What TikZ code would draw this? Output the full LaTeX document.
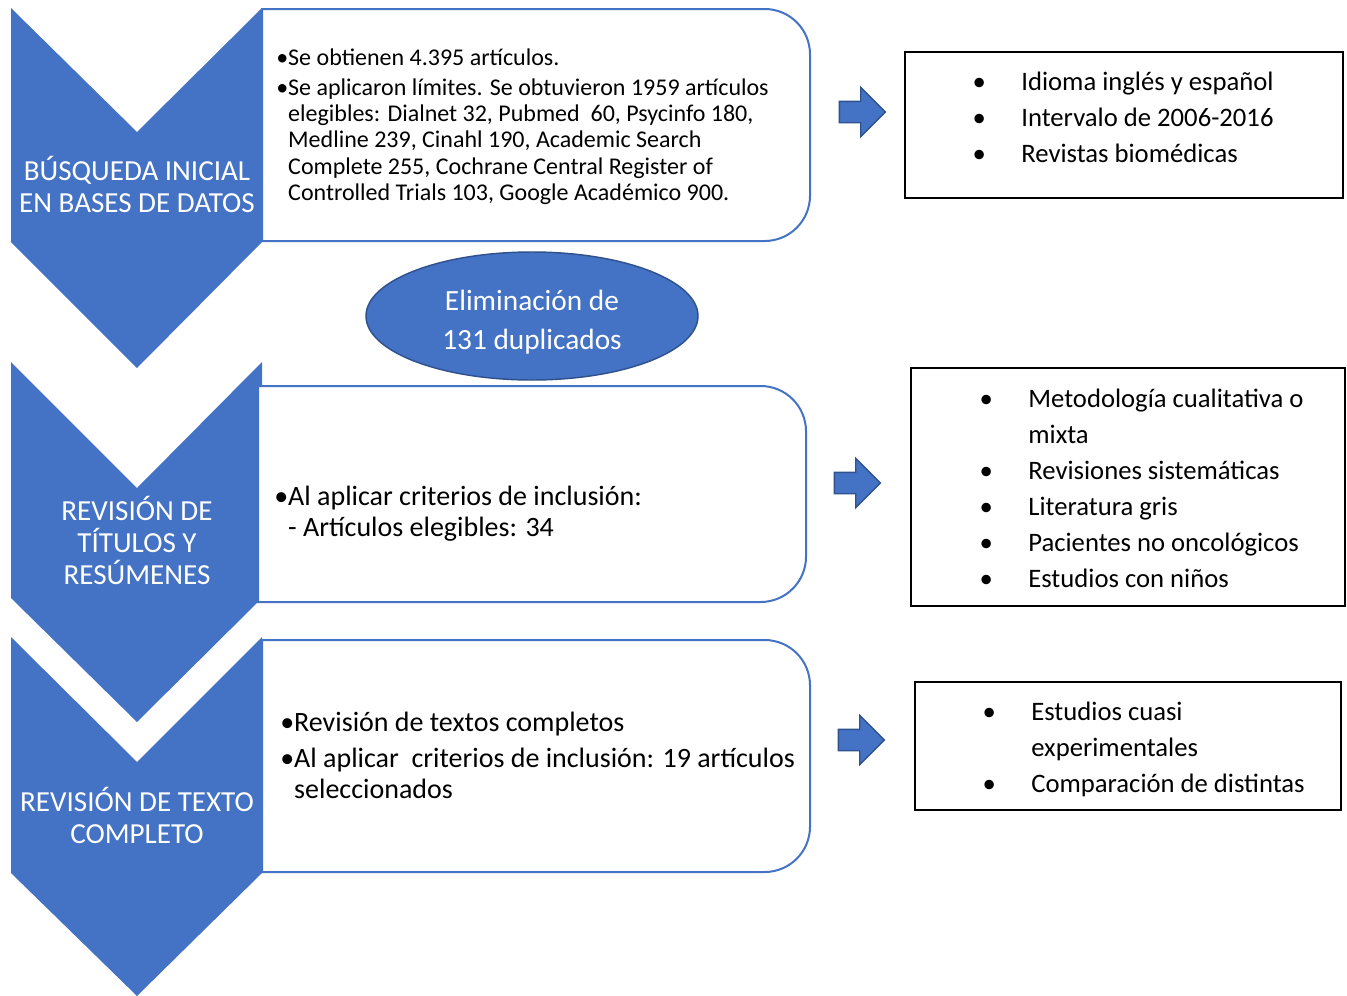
\documentclass[tikz,border=0pt]{standalone}
\usepackage{fontspec}
\setmainfont{Carlito}
\usetikzlibrary{shapes.geometric, shapes.arrows}

\definecolor{azul}{HTML}{4472C4}
\definecolor{azuloscuro}{HTML}{2F528F}

\tikzset{
  etapa/.style={text=white, align=center, inner sep=0pt, font=\fontsize{21.8}{24}\selectfont},
  caja/.style={draw=azul, line width=1.5pt, fill=white},
  texto/.style={anchor=west, inner sep=0pt},
  criterio/.style={draw=black, line width=1.5pt},
  flecha/.style={single arrow, draw=azuloscuro, fill=azul, line width=1pt, inner sep=7.5pt,
    single arrow head extend=10.5pt, minimum height=34.5pt},
}

\begin{document}
\begin{tikzpicture}[x=0.75pt, y=-0.75pt]
                \useasboundingbox (0,0) rectangle (1347,996);

                % chevrons
                \fill[azul] (11,8) -- (137,132) -- (262,8) -- (262,242) -- (137,368) -- (11,242) -- cycle;
                \fill[azul] (11,362) -- (137,488) -- (262,362) -- (262,598) -- (137,722) -- (11,598) -- cycle;
                \fill[azul] (11,637) -- (137,762) -- (262,637) -- (262,873) -- (137,996) -- (11,873) -- cycle;

                \node[etapa] (etapa1) at (137,184) {BÚSQUEDA INICIAL\\EN BASES DE DATOS};
                \node[etapa] (etapa2) at (137,540) {REVISIÓN DE\\TÍTULOS Y\\RESÚMENES};
                \node[etapa] (etapa3) at (137,815) {REVISIÓN DE TEXTO\\COMPLETO};

                % cajas de resultados
                \draw[caja] (262,9) [rounded corners=34pt] -- (810,9) -- (810,241) [sharp corners] -- (262,241) -- cycle;
                \draw[caja] (258,386) [rounded corners=34pt] -- (806,386) -- (806,602) [sharp corners] -- (258,602) -- cycle;
                \draw[caja] (262,640) [rounded corners=34pt] -- (810,640) -- (810,872) [sharp corners] -- (262,872) -- cycle;

                \node[texto, font=\fontsize{18}{19.7}\selectfont] (res1) at (276,127.5) {%
                  \begin{tabular}{@{}l@{}l@{}}
                  •&Se obtienen 4.395 artículos.\\[2.8pt]
                  •&Se aplicaron límites. Se obtuvieron 1959 artículos\\
                   &elegibles: Dialnet 32, Pubmed~ 60, Psycinfo 180,\\
                   &Medline 239, Cinahl 190, Academic Search\\
                   &Complete 255, Cochrane Central Register of\\
                   &Controlled Trials 103, Google Académico 900.
                  \end{tabular}};
                \node[texto, font=\fontsize{21}{23.25}\selectfont] (res2) at (274,514.5) {%
                  \begin{tabular}{@{}l@{}l@{}}
                  •&Al aplicar criterios de inclusión:\\
                   &- Artículos elegibles: 34
                  \end{tabular}};
                \node[texto, font=\fontsize{21}{23.25}\selectfont] (res3) at (280,758.5) {%
                  \begin{tabular}{@{}l@{}l@{}}
                  •&Revisión de textos completos\\[3.75pt]
                  •&Al aplicar~ criterios de inclusión: 19 artículos\\
                   &seleccionados
                  \end{tabular}};

                % duplicados
                \node[ellipse, fill=azul, draw=azuloscuro, line width=1.1pt, minimum width=249pt,
                  minimum height=96pt, inner sep=0pt] (duplicados) at (532,316) {};
                \node[text=white, align=center, inner sep=0pt,
                  font=\fontsize{22}{29}\selectfont] (textodup) at (532,322) {Eliminación de\\131 duplicados};

                % flechas
                \node[flecha] (flecha1) at (857,112) {};
                \node[flecha] (flecha2) at (852,483) {};
                \node[flecha] (flecha3) at (856,740) {};

                % criterios
                \draw[criterio] (905,52) rectangle (1343,198);
                \draw[criterio] (911,368) rectangle (1345,606);
                \draw[criterio] (915,682) rectangle (1341,810);

                \node[texto, font=\fontsize{20}{27}\selectfont] (crit1) at (972.4,119) {%
                  \begin{tabular}{@{}p{36.5pt}@{}l@{}}
                  •&Idioma inglés y español\\
                  •&Intervalo de 2006-2016\\
                  •&Revistas biomédicas
                  \end{tabular}};
                \node[texto, font=\fontsize{20}{27}\selectfont] (crit2) at (979.4,490.5) {%
                  \begin{tabular}{@{}p{36.5pt}@{}l@{}}
                  •&Metodología cualitativa o\\
                   &mixta\\
                  •&Revisiones sistemáticas\\
                  •&Literatura gris\\
                  •&Pacientes no oncológicos\\
                  •&Estudios con niños
                  \end{tabular}};
                \node[texto, font=\fontsize{20}{27}\selectfont] (crit3) at (982.4,749.5) {%
                  \begin{tabular}{@{}p{36.5pt}@{}l@{}}
                  •&Estudios cuasi\\
                   &experimentales\\
                  •&Comparación de distintas
                  \end{tabular}};
            \end{tikzpicture}
\end{document}
